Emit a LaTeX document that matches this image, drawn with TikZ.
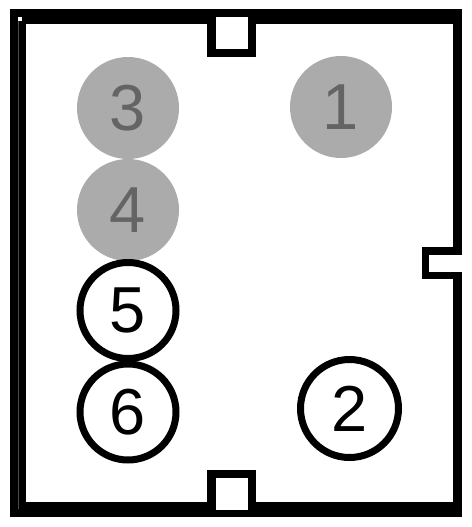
\documentclass[tikz,border=0pt]{standalone}
\usepackage{fontspec}
\setmainfont{Liberation Sans}
\definecolor{discfill}{HTML}{ABABAB}
\definecolor{disctext}{HTML}{646464}
\begin{document}
\begin{tikzpicture}[x=1pt,y=-1pt,
  bigdigit/.style={font=\fontsize{65}{65}\selectfont},
  graydisc/.style={circle,fill=discfill,draw=none,minimum size=102pt,inner sep=0pt,text=disctext,bigdigit},
  ringdisc/.style={circle,fill=white,draw=black,line width=7pt,minimum size=96pt,inner sep=0pt,text=black,bigdigit}]
\useasboundingbox (0,0) rectangle (471,527);
\fill[white] (0,0) rectangle (471,527);
% frame
\fill[black] (10,9) rectangle (462,517);
\fill[white] (26,24) rectangle (453,502);
\draw[black!70,line width=0.8pt] (18,21) -- (18,509);
\fill[white] (18,17) rectangle (22,21);
% notches
\fill[black] (207,9) rectangle (256,57);
\fill[white] (216,17) rectangle (248,49);
\fill[black] (207,470) rectangle (256,517);
\fill[white] (216,478) rectangle (248,510);
\fill[black] (422,247) rectangle (462,279);
\fill[white] (429,255) rectangle (462,272);
% discs
\node[graydisc] (n3) at (128,108) {3};
\node[graydisc] (n4) at (128,210) {4};
\node[graydisc] (n1) at (341,107) {1};
\node[ringdisc] (n5) at (128,310.5) {5};
\node[ringdisc] (n6) at (128,412) {6};
\node[ringdisc,minimum size=98pt] (n2) at (349.5,408.5) {2};
\end{tikzpicture}
\end{document}
